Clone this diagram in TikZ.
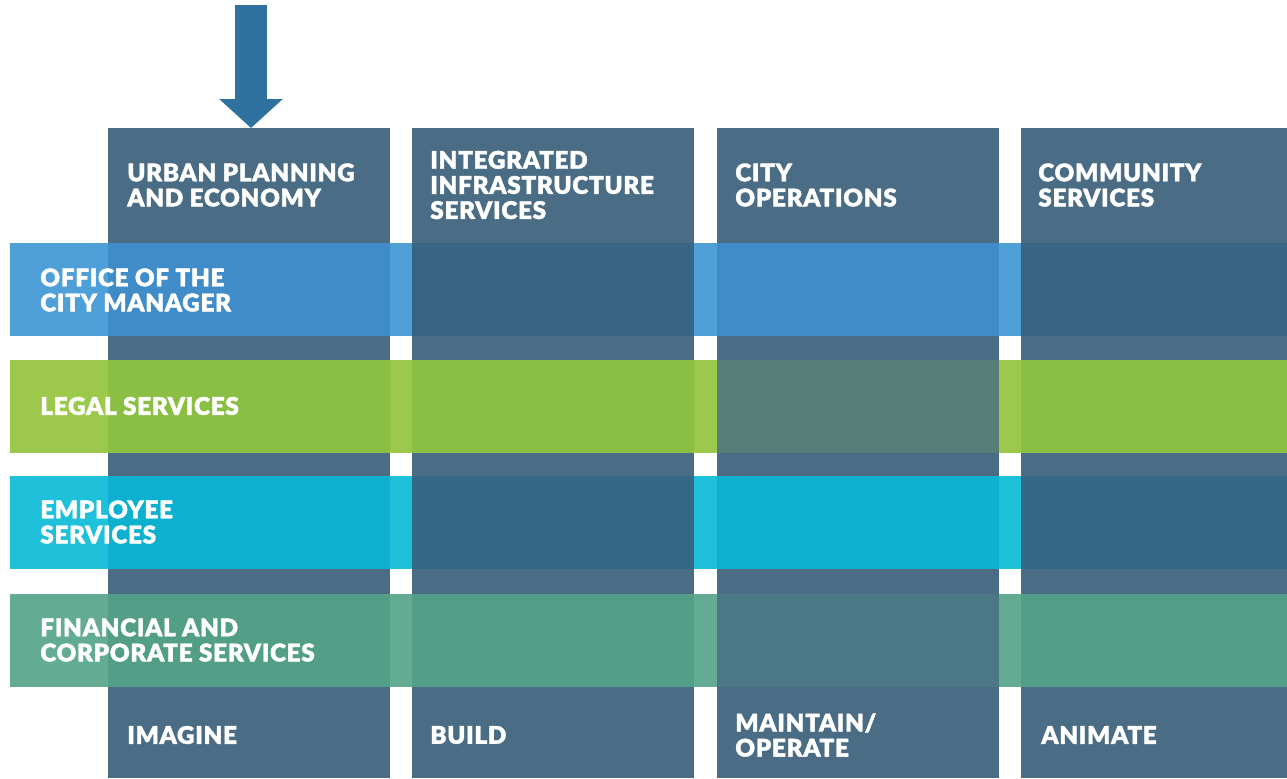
\documentclass[tikz,border=0pt]{standalone}
\usepackage{fontspec}
\usetikzlibrary{arrows.meta}
\newfontfamily\heavyfont{Lato Black}[FakeBold=1.6, LetterSpace=3]

\definecolor{slate}{HTML}{4A6D85}
\definecolor{arrowblue}{HTML}{2F72A0}
\definecolor{blueout}{HTML}{4F9FD9}
\definecolor{bluelt}{HTML}{3F8CC8}
\definecolor{bluedk}{HTML}{386584}
\definecolor{greenout}{HTML}{9CC94B}
\definecolor{greenlt}{HTML}{8BBF44}
\definecolor{greendk}{HTML}{577F77}
\definecolor{cyanout}{HTML}{1FC1DA}
\definecolor{cyanlt}{HTML}{0DB1CF}
\definecolor{cyandk}{HTML}{336886}
\definecolor{tealout}{HTML}{64AB93}
\definecolor{teallt}{HTML}{539E87}
\definecolor{tealdk}{HTML}{4B7886}

\begin{document}
\begin{tikzpicture}[
  x=0.02cm, y=-0.02cm,
  colbox/.style={
    fill=slate,
    draw=none,
    anchor=north west,
    inner sep=0pt,
    minimum width=5.64cm,
    minimum height=13cm
  },
  lbl/.style={
    anchor=west,
    align=left,
    inner sep=0pt,
    text=white,
    font=\heavyfont\fontsize{13.8}{14.3}\selectfont
  },
  pointer/.style={
    draw=arrowblue,
    line width=0.64cm,
    -{Triangle[width=1.24cm,length=0.58cm]}
  }
]
\useasboundingbox (0,0) rectangle (1287,778);
\clip (0,0) rectangle (1287,778);

% the four departments
\node[colbox] (upe) at (108,128) {};
\node[colbox] (iis) at (412,128) {};
\node[colbox] (ops) at (717,128) {};
\node[colbox] (com) at (1021,128) {};

% the shared services, band by band
\foreach \y/\out/\a/\b/\c/\d in {
    243/blueout/bluelt/bluedk/bluelt/bluedk,
    360/greenout/greenlt/greenlt/greendk/greenlt,
    476/cyanout/cyanlt/cyandk/cyanlt/cyandk,
    594/tealout/teallt/teallt/tealdk/teallt} {
  \fill[\out] (10,\y) rectangle (1287,\y+93);
  \fill[\a] (108,\y) rectangle ++(282,93);
  \fill[\b] (412,\y) rectangle ++(282,93);
  \fill[\c] (717,\y) rectangle ++(282,93);
  \fill[\d] (1021,\y) rectangle ++(282,93);
}

% arrow into the first column
\coordinate (src) at (251,5);
\draw[pointer] (src) -- (src |- upe.north);

% column heads
\node[lbl] (upehead) at (127,185) {URBAN PLANNING\\AND ECONOMY};
\node[lbl] (iishead) at (430,185) {INTEGRATED\\INFRASTRUCTURE\\SERVICES};
\node[lbl] (opshead) at (735,185) {CITY\\OPERATIONS};
\node[lbl] (comhead) at (1038,185) {COMMUNITY\\SERVICES};

% band labels
\node[lbl] (cmo) at (40,290) {OFFICE OF THE\\CITY MANAGER};
\node[lbl] (legal) at (40,406) {LEGAL SERVICES};
\node[lbl] (emp) at (40,522) {EMPLOYEE\\SERVICES};
\node[lbl] (fin) at (40,640) {FINANCIAL AND\\CORPORATE SERVICES};

% column feet
\node[lbl] (imagine) at (127,735) {IMAGINE};
\node[lbl] (build) at (430,735) {BUILD};
\node[lbl] (maintain) at (735,735) {MAINTAIN/\\OPERATE};
\node[lbl] (animate) at (1041,735) {ANIMATE};
\end{tikzpicture}
\end{document}
